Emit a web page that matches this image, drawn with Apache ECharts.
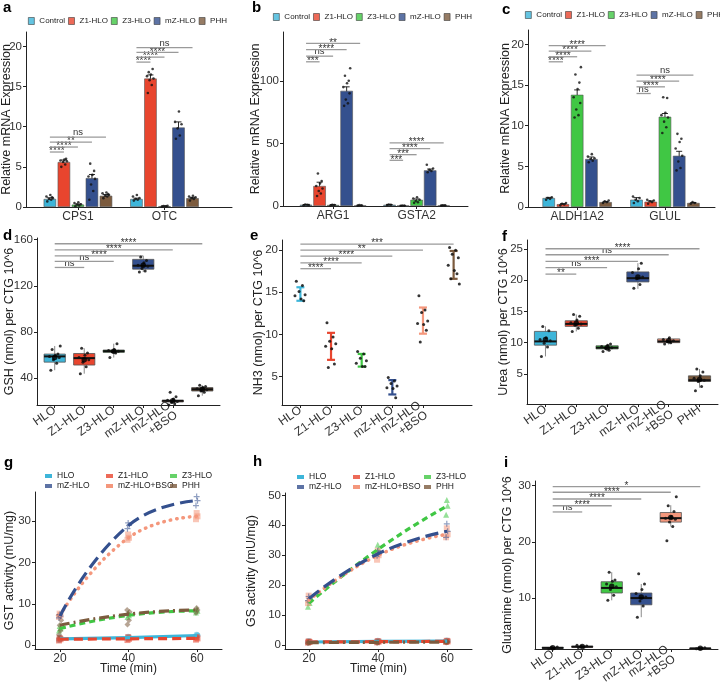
<!DOCTYPE html>
<html><head><meta charset="utf-8">
<script src="https://cdn.jsdelivr.net/npm/echarts@6/dist/echarts.min.js"></script>
<style>html,body{margin:0;padding:0;background:#fff}#c{width:720px;height:688px}</style>
</head><body><div id="c"></div>
<script>
// ================= DATA =================
const groupsABC = ['Control','Z1-HLO','Z3-HLO','mZ-HLO','PHH'];
const groupsDEF = ['HLO','Z1-HLO','Z3-HLO','mZ-HLO','mZ-HLO\n+BSO','PHH'];
const groupsGH  = ['HLO','Z1-HLO','Z3-HLO','mZ-HLO','mZ-HLO+BSO','PHH'];

// panel a
const aGenes = ['CPS1','OTC'];
const aMeans = [[1.0,5.6,0.3,3.6,1.4],[1.0,16.0,0.1,9.9,1.1]];
const aErrs  = [[0.15,0.25,0.08,0.45,0.15],[0.1,0.45,0.03,0.7,0.1]];
const aPoints = [
  [[0.7,0.9,1.0,1.1,1.3,1.5,1.2],[5.0,5.3,5.6,5.7,5.8,5.9,6.0],[0.1,0.2,0.3,0.35,0.5,0.6],[0.9,2.0,2.8,3.5,3.8,4.0,4.5,5.4],[1.1,1.3,1.4,1.5,1.7,1.8,1.6]],
  [[0.8,0.9,1.0,1.1,1.3,1.5],[14.2,15.2,15.8,16.0,16.3,16.5,17.2,16.8],[0.05,0.1,0.12,0.15],[8.5,8.9,9.8,10.3,10.6,11.9],[0.8,1.0,1.1,1.2,1.3,1.4]]
];
const aSigY = [6.85,7.47,8.09,8.71,18.05,18.67,19.25,19.85];
const aSigLab = ['****','****','**','ns','****','****','****','ns'];

// panel b
const bGenes = ['ARG1','GSTA2'];
const bMeans = [[1.0,16.0,0.8,92.0,0.5],[1.0,0.3,5.0,28.5,0.5]];
const bErrs  = [[0.2,3.0,0.2,3.2,0.1],[0.2,0.1,0.6,1.0,0.1]];
const bPoints = [
  [[0.5,1.0,1.2,0.8],[8,10,12,14,16,18,20,26],[0.5,0.8,1.0],[80,82,85,90,95,98,100,104,110],[0.3,0.5,0.7]],
  [[0.8,1.0,1.2],[0.2,0.3,0.4],[2.5,3,4,5,6,7],[27,28,29,30,33],[0.4,0.5,0.6]]
];
const bSigY = [115.2,119.7,125.0,129.9,36.5,41.0,45.9,50.4];
const bSigLab = ['***','ns','****','**','***','***','****','****'];

// panel c
const cGenes = ['ALDH1A2','GLUL'];
const cMeans = [[1.1,0.35,13.8,5.9,0.6],[0.9,0.65,11.1,6.3,0.5]];
const cErrs  = [[0.08,0.06,0.6,0.25,0.06],[0.25,0.1,0.4,0.55,0.05]];
const cPoints = [
  [[0.9,1.0,1.1,1.2],[0.2,0.3,0.4,0.5],[11,11.3,12,12.8,13.5,14.5,15.3,16.3,17.2],[5.5,5.7,5.9,6.0,6.2,6.5],[0.5,0.6,0.7,0.8]],
  [[0.5,0.7,0.9,1.1,1.3],[0.4,0.6,0.7,0.8,0.9],[9.1,9.8,10.5,11,11.3,11.6,13.4,13.5],[4.5,4.8,5.6,6.3,7.2,8.0,8.4,9.0],[0.4,0.5,0.6]]
];
const cSigY = [17.86,18.48,19.18,19.84,13.96,14.78,15.48,16.22];
const cSigLab = ['****','****','****','****','ns','****','****','ns'];

// panel d (GSH) boxes: [min, q1, median, q3, max]
const dBoxes = [[47,54,59,61,68],[44,51.5,57.5,61.5,66],[58,62.5,63.5,64.5,70],[132,134.5,137.5,143,146],[18,19.5,20.5,21,23],[25,29,30.5,32,34]];
const dMeans = [58,56,63.5,138,20.5,30.5];
const dPoints = [[47,53,56,58,59,60,61,65,68],[44,50,54,56,58,60,62,66],[58,62,63,63.5,64,65,70],[132,133,135,137,138,140,142,145],[17,18,19,20,21,22,24,28],[25,28,29,30,31,32,33,34]];
const dSigY = [136,141.2,146.1,151.3,156.5];
const dSigLab = ['ns','ns','****','****','****'];

// panel e (NH3) error bars [low, high]
const eBars = [[14.0,15.6],[7.0,10.2],[6.2,7.7],[2.9,4.6],[10.1,13.2],[16.6,19.9]];
const ePoints = [[16.3,15.8,15.1,14.7,14.6,14.2,14.0],[11.4,9.7,9.2,8.9,8.6,8.3,6.5,6.1],[8.0,7.7,7.2,6.9,6.6,6.2,6.2],[4.9,4.5,4.2,3.9,3.7,3.6,2.5],[14.6,12.9,12.6,11.6,11.3,11.2,10.5,9.1],[20.3,20.0,19.5,19.1,18.2,17.6,17.2,16.6,16.0]];
const eSigY = [17.8,18.5,19.3,20.0,20.7];
const eSigLab = ['****','****','****','**','***'];

// panel f (Urea)
const fBoxes = [[7.8,9.6,10.2,11.8,12.6],[11.8,12.6,13.0,13.5,14.5],[8.6,9.0,9.2,9.5,9.8],[18.6,19.7,20.3,21.3,22.7],[9.7,10.0,10.2,10.6,10.9],[2.8,3.8,4.0,4.7,5.8]];
const fMeans = [10.5,13.1,9.2,20.5,10.3,4.1];
const fPoints = [[7.8,9.3,9.9,10.3,10.5,10.8,11.9,12.6],[11.8,12.3,12.8,13.0,13.2,13.6,14.2,14.5],[8.6,8.8,9.1,9.2,9.4,9.6,9.8],[18.7,19.3,20.2,20.5,21.2,21.8,22.7],[9.8,10.0,10.2,10.3,10.5,10.8],[2.3,3.0,3.8,4.0,4.3,4.7,5.3,5.8]];
const fSigY = [20.95,22.0,22.97,24.04,25.0];
const fSigLab = ['**','ns','****','ns','****'];

// panel i (Glutamine)
const iBoxes = [[0.95,1.1,1.15,1.25,1.35],[1.2,1.3,1.35,1.45,1.6],[9.6,10.9,11.8,12.9,14.6],[6.6,8.8,10.0,10.9,12.5],[22.7,23.5,24.2,25.2,26.5],[0.95,1.0,1.05,1.1,1.2]];
const iMeans = [1.15,1.4,12.1,10.2,24.3,1.1];
const iPoints = [[1.0,1.1,1.2,1.3],[1.2,1.3,1.4,1.5,1.6],[9.6,10.5,11.5,12.0,12.5,13.0,13.2,14.6],[6.6,8.6,9.5,10.2,10.8,11.5,12.5,14.3],[20.2,22.7,23.5,24.0,24.2,24.5,25.4,26.4,28.0],[1.0,1.05,1.1,1.15]];
const iSigY = [25.3,26.4,27.6,28.8,29.8];
const iSigLab = ['ns','****','****','****','*'];

// panels g/h: time course
const times = [20,40,60];
const gMeans = [[1.5,1.8,2.3],[1.4,1.5,1.6],[4.0,7.2,8.3],[7.0,29.0,35.0],[7.2,26.0,31.2],[4.8,7.5,8.5]];
const gReps = [
  [[1.2,1.5,1.8],[1.6,1.8,2.0],[2.0,2.3,2.5]],
  [[1.1,1.4,1.7],[1.2,1.5,1.9],[1.3,1.6,1.9]],
  [[3.5,4.0,4.6],[6.8,7.2,7.8],[7.9,8.3,8.8]],
  [[6.6,7.0,7.4],[28.2,29.0,29.6],[33.8,35.0,36.0]],
  [[6.8,7.2,7.6],[25.5,26.0,26.8],[30.5,31.2,32.0]],
  [[2.5,3.5,4.8,6.0,7.2],[5.0,6.0,7.5,8.0,8.5],[7.8,8.5,9.0]]
];
const hMeans = [[1.0,1.2,1.3],[1.0,1.1,1.2],[14.0,32.0,46.5],[15.5,30.5,38.0],[15.0,30.0,37.0],[0.8,0.9,1.0]];
const hReps = [
  [[0.8,1.0,1.3],[1.0,1.2,1.4],[1.1,1.3,1.5]],
  [[0.8,1.0,1.2],[0.9,1.1,1.3],[1.0,1.2,1.4]],
  [[12.8,14.0,15.0],[31.0,32.0,33.5],[43.5,46.5,48.5]],
  [[14.8,15.5,16.2],[29.8,30.5,31.5],[36.0,38.0,40.5]],
  [[14.0,15.0,16.5],[28.5,30.0,31.5],[36.0,37.0,39.0]],
  [[0.6,0.8,1.0],[0.7,0.9,1.1],[0.8,1.0,1.2]]
];

// ================= STYLE =================
const FONT = "'Liberation Sans', Arial, Helvetica, sans-serif";
const COL = {HLO:'#3DB5D9', Z1:'#E8452E', Z3:'#40C744', MZ:'#34508E', PHH:'#7C5B3E', BSO:'#F4977C'};
const colABC = [COL.HLO, COL.Z1, COL.Z3, COL.MZ, COL.PHH];
const colDEF = [COL.HLO, COL.Z1, COL.Z3, COL.MZ, COL.BSO, COL.PHH];
const BW = 0.162;
const JIT = [-0.6,0.3,-0.2,0.7,-0.8,0.1,0.5,-0.4,0.85,-0.05];
const lineDash = [null,[9,5],[6,4],[13,6],[0.5,6],[10,4,2,4]];
const repSymbols = ['circle','rect','triangle','path://M4,0h2v4h4v2h-4v4h-2v-4h-4v-2h4z','rect','diamond'];

const grids=[], xAxes=[], yAxes=[], series=[], legends=[];

function addGrid(l,t,r,b){ grids.push({left:l, top:t, width:r-l, height:b-t, containLabel:false, outerBoundsMode:'none'}); return grids.length-1; }
function addX(gi,min,max,ticks,labels,rot,name){
  xAxes.push({type:'value', gridIndex:gi, min:min, max:max,
    name: name||'', nameLocation:'middle', nameGap:14, nameMoveOverlap:false,
    nameTextStyle:{fontSize:12, color:'#222', fontFamily:FONT},
    axisLine:{show:true,onZero:false,lineStyle:{color:'#222',width:1}},
    axisTick:{show:true,length:3,customValues:ticks,lineStyle:{color:'#222'}},
    axisLabel:{customValues:ticks, rotate:rot||0, formatter: labels ? (v=>labels[Math.round(v)-1]) : (v=>String(v)),
      fontSize:12, color:'#333', margin:4, fontFamily:FONT, lineHeight:12},
    splitLine:{show:false}});
  return xAxes.length-1;
}
function addY(gi,min,max,ticks,name,gap){
  yAxes.push({type:'value', gridIndex:gi, min:min, max:max, name:name, nameLocation:'middle', nameGap:gap, nameMoveOverlap:false,
    nameTextStyle:{fontSize:12.5, color:'#222', fontFamily:FONT},
    axisLine:{show:true,onZero:false,lineStyle:{color:'#222',width:1}},
    axisTick:{show:true,length:3,customValues:ticks,lineStyle:{color:'#222'}},
    axisLabel:{customValues:ticks, fontSize:11.5, color:'#333', margin:4, fontFamily:FONT},
    splitLine:{show:false}});
  return yAxes.length-1;
}

function sigRender(labels){
  return function(params, api){
    const a = api.coord([api.value(0), api.value(2)]);
    const b = api.coord([api.value(1), api.value(2)]);
    const lab = labels[params.dataIndex];
    const star = lab.indexOf('*')>=0;
    return {type:'group', children:[
      {type:'line', shape:{x1:a[0],y1:a[1],x2:b[0],y2:b[1]}, style:{stroke:'#9a9a9a', lineWidth:1.3}},
      {type:'text', style:{x:(a[0]+b[0])/2, y:a[1]+(star?4.5:0.5), text:lab, align:'center', verticalAlign:'bottom', fill:'#333', fontSize:star?10:9.5, fontFamily:FONT}}
    ]};
  };
}
function errRender(params, api){
  const x=api.value(0), m=api.value(1), e=api.value(2);
  const t=api.coord([x,m+e]), b=api.coord([x,m-e]);
  const cw=3, st={stroke:'#111', lineWidth:0.9};
  return {type:'group', children:[
    {type:'line', shape:{x1:t[0],y1:t[1],x2:b[0],y2:b[1]}, style:st},
    {type:'line', shape:{x1:t[0]-cw,y1:t[1],x2:t[0]+cw,y2:t[1]}, style:st},
    {type:'line', shape:{x1:b[0]-cw,y1:b[1],x2:b[0]+cw,y2:b[1]}, style:st}]};
}
function errColRender(params, api){
  const x=api.value(0);
  const t=api.coord([x,api.value(2)]), b=api.coord([x,api.value(1)]);
  const c=colDEF[api.value(3)], cw=4, st={stroke:c, lineWidth:2.2};
  return {type:'group', children:[
    {type:'line', shape:{x1:t[0],y1:t[1],x2:b[0],y2:b[1]}, style:st},
    {type:'line', shape:{x1:t[0]-cw,y1:t[1],x2:t[0]+cw,y2:t[1]}, style:st},
    {type:'line', shape:{x1:b[0]-cw,y1:b[1],x2:b[0]+cw,y2:b[1]}, style:st}]};
}
function boxRender(params, api){
  const x=api.value(0);
  const pMin=api.coord([x,api.value(1)]), pQ1=api.coord([x,api.value(2)]), pMed=api.coord([x,api.value(3)]),
        pQ3=api.coord([x,api.value(4)]), pMax=api.coord([x,api.value(5)]);
  const hw=api.size([0.36,0])[0];
  const c=colDEF[api.value(6)];
  return {type:'group', children:[
    {type:'line', shape:{x1:pMin[0],y1:pMin[1],x2:pMax[0],y2:pMax[1]}, style:{stroke:'#8a8a8a', lineWidth:1}},
    {type:'rect', shape:{x:pQ1[0]-hw, y:pQ3[1], width:2*hw, height:Math.max(pQ1[1]-pQ3[1],1)}, style:{fill:c, stroke:'#555', lineWidth:0.8}},
    {type:'line', shape:{x1:pMed[0]-hw,y1:pMed[1],x2:pMed[0]+hw,y2:pMed[1]}, style:{stroke:'#111', lineWidth:2}}
  ]};
}

function barPanel(xi, yi, means, errs, pts, sigY, sigLab){
  const barData=[], errData=[], ptData=[], sigData=[];
  means.forEach((row,g)=>row.forEach((m,k)=>{
    const x = g+1+(k-2)*BW;
    barData.push({value:[x,m], itemStyle:{color:colABC[k]}});
    errData.push([x,m,errs[g][k]]);
    pts[g][k].forEach((v,j)=>ptData.push([x+JIT[j%JIT.length]*0.05, v]));
  }));
  sigY.forEach((y,i)=>{ const g=Math.floor(i/4), k=i%4+1; sigData.push([g+1-2*BW, g+1+(k-2)*BW, y]); });
  series.push({type:'bar', xAxisIndex:xi, yAxisIndex:yi, data:barData, barWidth:12.5, itemStyle:{borderColor:'#555',borderWidth:0.6}, silent:true});
  series.push({type:'custom', xAxisIndex:xi, yAxisIndex:yi, data:errData, renderItem:errRender, clip:false, silent:true});
  series.push({type:'scatter', xAxisIndex:xi, yAxisIndex:yi, data:ptData, symbolSize:2.6, itemStyle:{color:'#111'}, silent:true});
  series.push({type:'custom', xAxisIndex:xi, yAxisIndex:yi, data:sigData, renderItem:sigRender(sigLab), clip:false, silent:true});
}

function groupPanel(xi, yi, boxes, meansArr, errBars, pts, sigY, sigLab){
  const ptData=[], sigData=[];
  if (boxes){
    const boxData = boxes.map((b,i)=>[i+1, b[0], b[1], b[2], b[3], b[4], i]);
    series.push({type:'custom', xAxisIndex:xi, yAxisIndex:yi, data:boxData, renderItem:boxRender, clip:false, silent:true});
  }
  if (errBars){
    const eData = errBars.map((b,i)=>[i+1, b[0], b[1], i]);
    series.push({type:'custom', xAxisIndex:xi, yAxisIndex:yi, data:eData, renderItem:errColRender, clip:false, silent:true});
  }
  pts.forEach((arr,i)=>arr.forEach((v,j)=>ptData.push([i+1+JIT[j%JIT.length]*0.22, v])));
  series.push({type:'scatter', xAxisIndex:xi, yAxisIndex:yi, data:ptData, symbolSize:3, itemStyle:{color:'#111', opacity:0.85}, silent:true});
  if (meansArr){
    series.push({type:'scatter', xAxisIndex:xi, yAxisIndex:yi, data:meansArr.map((m,i)=>[i+1,m]), symbolSize:5.5, itemStyle:{color:'#000'}, silent:true});
  }
  sigY.forEach((y,i)=>sigData.push([1, i+2, y]));
  series.push({type:'custom', xAxisIndex:xi, yAxisIndex:yi, data:sigData, renderItem:sigRender(sigLab), clip:false, silent:true});
}

function timePanel(xi, yi, means, reps){
  const order=[0,1,2,5,4,3];
  order.forEach(s=>{
    const data=[];
    reps[s].forEach((arr,t)=>arr.forEach((v,j)=>data.push([times[t]+JIT[j%JIT.length]*0.5, v])));
    series.push({type:'scatter', xAxisIndex:xi, yAxisIndex:yi, data:data, symbol:repSymbols[s], symbolSize:6,
      itemStyle:{color:colDEF[s], opacity:0.55}, silent:true, z:2});
  });
  order.forEach(s=>{
    series.push({type:'line', name:groupsGH[s], xAxisIndex:xi, yAxisIndex:yi, data:means[s].map((m,t)=>[times[t],m]),
      smooth:0.5, showSymbol:false, symbol:'none', silent:true, z:3,
      lineStyle:{color:colDEF[s], width: s===4?3.5:3.2, type: lineDash[s]||'solid', cap: s===4?'round':'butt'},
      itemStyle:{color:colDEF[s]}});
  });
}

// ---------- layout ----------
// a
let g = addGrid(26,32,232,207);
let xi = addX(g,0.4,2.78,[1,2],aGenes), yi = addY(g,0,21.8,[0,5,10,15,20],'Relative mRNA Expression',13);
barPanel(xi,yi,aMeans,aErrs,aPoints,aSigY,aSigLab);
groupsABC.forEach((n,k)=>series.push({type:'scatter', name:n, xAxisIndex:xi, yAxisIndex:yi, data:[], itemStyle:{color:colABC[k]}}));
// b
g = addGrid(283,32,468,206);
xi = addX(g,0.4,2.615,[1,2],bGenes); yi = addY(g,0,139,[0,50,100],'Relative mRNA Expression',21);
barPanel(xi,yi,bMeans,bErrs,bPoints,bSigY,bSigLab);
// c
g = addGrid(528,30,715,207);
xi = addX(g,0.44,2.57,[1,2],cGenes); yi = addY(g,0,21.77,[0,5,10,15,20],'Relative mRNA Expression',16);
barPanel(xi,yi,cMeans,cErrs,cPoints,cSigY,cSigLab);
// d
g = addGrid(37,238,220,405);
xi = addX(g,0.4,6.6,[1,2,3,4,5,6],groupsDEF,35); yi = addY(g,16.9,161.5,[40,80,120,160],'GSH (nmol) per CTG 10^6',21);
groupPanel(xi,yi,dBoxes,dMeans,null,dPoints,dSigY,dSigLab);
// e
g = addGrid(282,240,472,405);
xi = addX(g,0.4,6.6,[1,2,3,4,5,6],groupsDEF,35); yi = addY(g,1.65,21.2,[5,10,15,20],'NH3 (nmol) per CTG 10^6',17);
groupPanel(xi,yi,null,null,eBars,ePoints,eSigY,eSigLab);
// f
g = addGrid(527,240,718,404);
xi = addX(g,0.4,6.6,[1,2,3,4,5,6],groupsDEF,35); yi = addY(g,0.2,26.4,[5,10,15,20,25],'Urea (nmol) per CTG 10^6',17);
groupPanel(xi,yi,fBoxes,fMeans,null,fPoints,fSigY,fSigLab);
// g
g = addGrid(35,492,222,649);
xi = addX(g,12.7,67.3,[20,40,60],null,0,'Time (min)'); yi = addY(g,-0.97,37.1,[0,10,20,30],'GST activity (mU/mg)',19);
timePanel(xi,yi,gMeans,gReps);
// h
g = addGrid(285,493,472,649);
xi = addX(g,13.04,67.2,[20,40,60],null,0,'Time (min)'); yi = addY(g,-1.34,50.8,[0,10,20,30,40,50],'GS activity (mU/mg)',27);
timePanel(xi,yi,hMeans,hReps);
// i
g = addGrid(535,481,718,649);
xi = addX(g,0.4,6.6,[1,2,3,4,5,6],groupsDEF,35); yi = addY(g,0.95,30.8,[10,20,30],'Glutamine (nmol) per CTG 10^6',21);
groupPanel(xi,yi,iBoxes,iMeans,null,iPoints,iSigY,iSigLab);

// ---------- legends ----------
function legABC(left, top){
  legends.push({left:left, top:top, width:240, orient:'horizontal', icon:'rect', itemWidth:6, itemHeight:7, itemGap:3, padding:0,
    selectedMode:false, data:groupsABC, itemStyle:{borderColor:'#333', borderWidth:0.7},
    textStyle:{fontSize:8, color:'#222', fontFamily:FONT}});
}
legABC(28,17); legABC(273,13); legABC(525,11);
function legGH(left, top, names){
  legends.push({left:left, top:top, orient:'vertical', icon:'rect', itemWidth:7, itemHeight:4, itemGap:0, padding:0,
    selectedMode:false, data:names, itemStyle:{borderWidth:0},
    textStyle:{fontSize:8.5, color:'#222', fontFamily:FONT, lineHeight:10}});
}
legGH(45,471,['HLO','mZ-HLO']); legGH(106,471,['Z1-HLO','mZ-HLO+BSO']); legGH(170,471,['Z3-HLO','PHH']);
legGH(297,472,['HLO','mZ-HLO']); legGH(353,472,['Z1-HLO','mZ-HLO+BSO']); legGH(424,472,['Z3-HLO','PHH']);

// ---------- panel letters ----------
const letters = [['a',3,0],['b',252,0],['c',502,2],['d',3,228],['e',250,228],['f',502,229],['g',4,455],['h',253,454],['i',504,455]]
  .map(l=>({type:'text', left:l[1], top:l[2], style:{text:l[0], font:'bold 15px '+FONT, fill:'#000'}}));

const chart = echarts.init(document.getElementById('c'), null, {renderer:'canvas', width:720, height:688});
chart.setOption({animation:false, textStyle:{fontFamily:FONT}, grid:grids, xAxis:xAxes, yAxis:yAxes, series:series, legend:legends, graphic:{elements:letters}});
</script></body></html>
